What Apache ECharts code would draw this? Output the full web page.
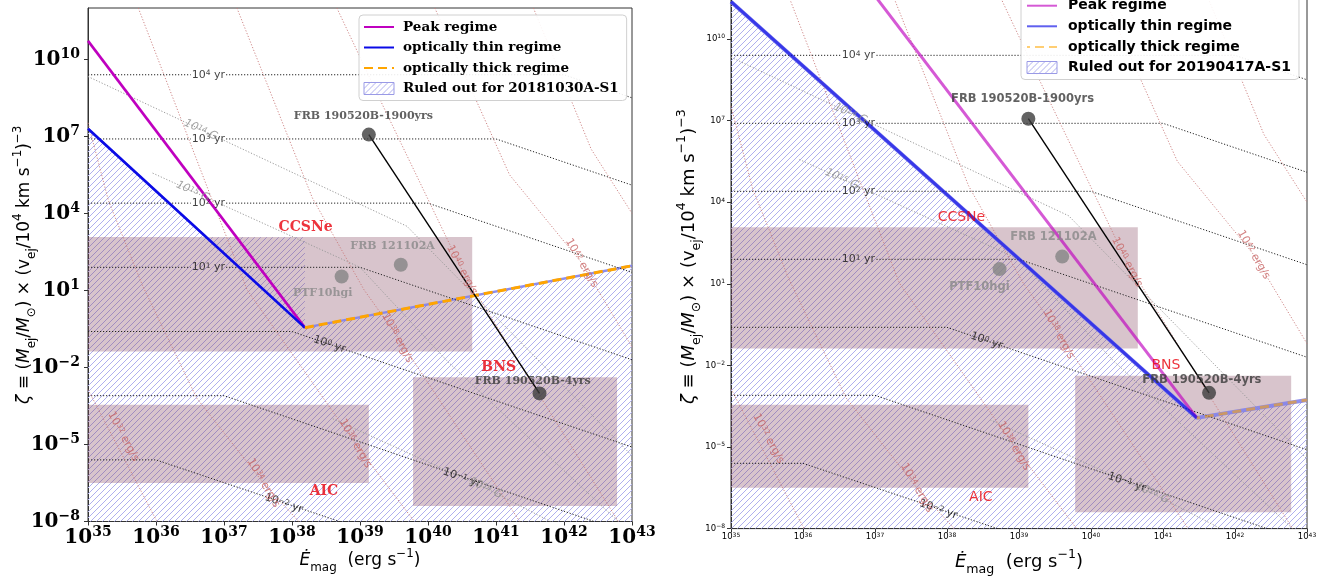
<!DOCTYPE html>
<html><head><meta charset="utf-8">
<script src="https://cdn.jsdelivr.net/npm/echarts@6/dist/echarts.min.js"></script>
<style>html,body{margin:0;padding:0;background:#fff}#c{width:1328px;height:576px}</style>
</head><body><div id="c"></div>
<script>
// ===== DATA (all values are log10: x = log10 Edot_mag [erg/s], y = log10 zeta) =====
const xTickExp = [35,36,37,38,39,40,41,42,43];
const yTickExp = [-8,-5,-2,1,4,7,10];

// left panel (20181030A-S1)
const peakLeft  = [[35,10.72],[38.19,-0.45]];
const thinLeft  = [[35,7.30],[38.19,-0.45]];
const thickLeft = [[38.19,-0.45],[43,1.96]];
const ruledLeft = [[35,7.30],[36.74,3.07],[38.19,3.07],[38.19,-0.45],[43,1.96],[43,-8],[35,-8]];
// right panel (20190417A-S1)
const peakRight  = [[36.88,12],[41.47,-3.93]];
const thinRight  = [[35,11.37],[41.47,-3.93]];
const thickRight = [[41.47,-3.93],[43,-3.27]];
const ruledRight = [[35,11.37],[41.47,-3.93],[43,-3.27],[43,-8],[35,-8]];

// source-class boxes [x0,x1,y0,y1]
const boxCCSNe = [35,40.65,-1.38,3.08];
const boxAIC   = [35,39.13,-6.5,-3.45];
const boxBNS   = [39.78,42.78,-7.4,-2.38];

// FRB points
const frb190520B = [[39.13,7.07],[41.64,-3.01]];
const frbOthers  = [[39.60,2.00],[38.73,1.54]];

// age contours (black dotted)
const ageCurves = [
  [[35,9.4],[42,9.4],[43,8.5]],
  [[35,6.9],[41,6.9],[43,5.1]],
  [[35,4.4],[40,4.4],[43,1.7]],
  [[35,1.9],[39,1.9],[43,-1.7]],
  [[35,-0.6],[38,-0.6],[43,-5.1]],
  [[35,-3.1],[37,-3.1],[43,-8.5]],
  [[35,-5.6],[36,-5.6],[38.7,-8]]
];
const ageLabels = [
  {e:'4',x:36.77,y:9.4,r:0},{e:'3',x:36.77,y:6.9,r:0},{e:'2',x:36.77,y:4.4,r:0},
  {e:'1',x:36.77,y:1.9,r:0},{e:'0',x:38.55,y:-1.1,r:-19},{e:'−1',x:40.5,y:-6.3,r:-19},
  {e:'−2',x:37.88,y:-7.3,r:-19}
];
// B-field contours (grey dotted)
const bCurves = [
  [[35,9.33],[39.69,3.5],[43,-5.44]],
  [[35.95,5.57],[39.0,1.9],[40.3,-1.8],[43,-8.5]],
  [[38.6,-4.0],[40.85,-6.7],[41.8,-8]]
];
const bLabels = [{e:'14',x:36.66,y:7.25,r:-25},{e:'15',x:36.54,y:4.85,r:-25},{e:'16',x:40.85,y:-6.7,r:-25}];
// luminosity contours (red dotted)
const lumCurves = [
  [[35,-2.86],[35.99,-7.88],[36.02,-8]],
  [[35,7.53],[35.3,4.5],[35.8,1.2],[36.6,-3.2],[37.58,-6.5],[38.1,-8]],
  [[35.74,12],[36.8,4.7],[37.34,1.02],[38.93,-4.96],[39.8,-8]],
  [[37.19,12],[38.3,4.6],[39.06,1.02],[39.55,-0.8],[41.35,-8]],
  [[38.66,12],[39.3,8.4],[40.5,1.8],[41.5,-2.5],[42.8,-8]],
  [[40.1,12],[41.2,5.5],[42.26,2.07],[43,-1.2]],
  [[41.55,12],[42.4,6.5],[43,4.0]]
];
const lumLabels = [
  {e:'32',x:35.52,y:-4.69,r:-62},{e:'34',x:37.58,y:-6.5,r:-60},{e:'36',x:38.93,y:-4.96,r:-60},
  {e:'38',x:39.55,y:-0.85,r:-62},{e:'40',x:40.5,y:1.8,r:-62},{e:'42',x:42.26,y:2.07,r:-60}
];
const annotations = [
  {t:'CCSNe',x:38.2,y:3.46,k:'red'},
  {t:'FRB 121102A',x:39.48,y:2.71,k:'gray'},
  {t:'PTF10hgi',x:38.45,y:0.88,k:'gray'},
  {t:'FRB 190520B-1900yrs',x:39.05,y:7.8,k:'dark'},
  {t:'BNS',x:41.04,y:-2.0,k:'red'},
  {t:'FRB 190520B-4yrs',x:41.54,y:-2.55,k:'dark'},
  {t:'AIC',x:38.47,y:-6.84,k:'red'}
];
const legendNames = ['Peak regime','optically thin regime','optically thick regime'];
const ruledNames = ['Ruled out for 20181030A-S1','Ruled out for 20190417A-S1'];

// ===== RENDERING =====
const P = v => Math.pow(10, v);
const toXY = a => a.map(p => [P(p[0]), P(p[1])]);
const HATCH = '#afafee';
function hatchCanvas(step, color, lw){
  const c=document.createElement('canvas'); c.width=step; c.height=step;
  const g=c.getContext('2d');
  g.strokeStyle=color; g.lineWidth=lw; g.beginPath();
  g.moveTo(-1,step+1); g.lineTo(step+1,-1);
  g.moveTo(-step/2-1,step/2+1); g.lineTo(step/2+1,-step/2-1);
  g.moveTo(step/2-1,step*1.5+1); g.lineTo(step*1.5+1,step/2-1);
  g.stroke(); return c;
}
const legendPat = {image: hatchCanvas(6, HATCH, 1), repeat:'repeat'};
// hatch lines ("/") clipped to a pixel polygon
function hatchLines(pts, step){
  const cs = pts.map(p => p[0]+p[1]);
  const c0 = Math.ceil(Math.min(...cs)/step)*step, c1 = Math.max(...cs);
  const out = [];
  for (let c=c0; c<=c1; c+=step){
    const xs=[];
    for (let i=0;i<pts.length;i++){
      const a=pts[i], b=pts[(i+1)%pts.length];
      const fa=a[0]+a[1]-c, fb=b[0]+b[1]-c;
      if ((fa<0)!==(fb<0)){ const t=fa/(fa-fb); xs.push(a[0]+t*(b[0]-a[0])); }
    }
    xs.sort((u,v)=>u-v);
    for (let k=0;k+1<xs.length;k+=2)
      out.push({type:'line', shape:{x1:xs[k],y1:c-xs[k],x2:xs[k+1],y2:c-xs[k+1]},
        style:{stroke:HATCH, lineWidth:1}});
  }
  return out;
}
// split a contour around a horizontal in-line label (gap half-width in decades)
function splitAtLabel(curve, lab, half){
  if (!lab || lab.r !== 0) return [curve];
  return [[curve[0],[lab.x-half,curve[0][1]]], [[lab.x+half,curve[0][1]]].concat(curve.slice(1))];
}

const chart = echarts.init(document.getElementById('c'));
const styles = [
  {serif:true, font:'DejaVu Serif', grid:{left:88,right:696,top:8,bottom:54.5},
   tick:{b:20,s:14,bold:'bold'}, xm:4, ym:8, lineA:1, dash:1, sfx:'', title:17, xGap:26, yGap:50, legFont:13.5,
   annRed:14, annGray:11, gap:0.26},
  {serif:false, font:'DejaVu Sans', grid:{left:731,right:21,top:-15.4,bottom:47.4},
   tick:{b:8.5,s:6,bold:'normal'}, xm:3.5, ym:6, lineA:0.65, dash:0.55, sfx:' ', title:18, xGap:20, yGap:28, legFont:14,
   annRed:14, annGray:11.5, gap:0.25}
];
const grids=[], xAxes=[], yAxes=[], series=[], legends=[];
const sup = e => String(e).replace('-', '−');
const INVIS = {color:'rgba(0,0,0,0)'};

styles.forEach((st, pi) => {
  grids.push(Object.assign({show:true, borderColor:'#333', borderWidth:1, backgroundColor:'transparent',
    containLabel:false, outerBoundsMode:'none'}, st.grid));
  const tickRich = {
    b:{fontFamily:st.font,fontSize:st.tick.b,fontWeight:st.tick.bold,color:'#000',lineHeight:st.tick.b*1.2},
    s:{fontFamily:st.font,fontSize:st.tick.s,fontWeight:st.tick.bold,color:'#000',verticalAlign:'top'}
  };
  const fmt = v => '{b|10}{s|' + sup(Math.round(Math.log10(v))) + '}';
  const T = st.title;
  const titleRich = {
    n:{fontFamily:'DejaVu Sans',fontSize:T,color:'#000',lineHeight:T*1.55},
    i:{fontFamily:'DejaVu Sans',fontSize:T,fontStyle:'italic',color:'#000',lineHeight:T*1.55},
    sub:{fontFamily:'DejaVu Sans',fontSize:T*0.7,color:'#000',verticalAlign:'bottom'},
    sup:{fontFamily:'DejaVu Sans',fontSize:T*0.7,color:'#000',verticalAlign:'top'}
  };
  xAxes.push({type:'log', gridIndex:pi, min:1e35, max:1e43, logBase:10,
    axisLine:{show:true,lineStyle:{color:'#333'}}, splitLine:{show:false},
    axisTick:{show:true, customValues:xTickExp.map(P), length:4, lineStyle:{color:'#333'}},
    axisLabel:{customValues:xTickExp.map(P), formatter:fmt, rich:tickRich, margin:st.xm},
    name:'{i|Ė}{sub|mag}{n|  (erg s}{sup|−1}{n|)}', nameLocation:'middle', nameGap:st.xGap, nameMoveOverlap:false,
    nameTextStyle:{rich:titleRich}});
  yAxes.push({type:'log', gridIndex:pi, min:1e-8, max:1e12, logBase:10,
    axisLine:{show:true,lineStyle:{color:'#333'}}, splitLine:{show:false},
    axisTick:{show:true, customValues:yTickExp.map(P), length:4, lineStyle:{color:'#333'}},
    axisLabel:{customValues:yTickExp.map(P), formatter:fmt, rich:tickRich, margin:st.ym},
    name:'{i|ζ}{n| ≡ (}{i|M}{sub|ej}{n|/}{i|M}{sub|⊙}{n|) × (v}{sub|ej}{n|/10}{sup|4}{n| km s}{sup|−1}{n|)}{sup|−3}',
    nameLocation:'middle', nameRotate:90, nameGap:st.yGap, nameMoveOverlap:false, nameTextStyle:{rich:titleRich}});

  const ax = {xAxisIndex:pi, yAxisIndex:pi};
  const sfx = st.sfx;
  // ruled out hatch
  const ruled = pi ? ruledRight : ruledLeft;
  series.push(Object.assign({type:'custom', name:ruledNames[pi], z:1, silent:true,
    itemStyle:{color:legendPat},
    data:[[0]],
    renderItem:(params, api) => ({type:'group',
      children: hatchLines(ruled.map(p=>api.coord([P(p[0]),P(p[1])])), 6)})
  }, ax));
  // boxes (translucent, over the hatch)
  const boxes = [boxCCSNe, boxAIC, boxBNS];
  series.push(Object.assign({type:'custom', name:'boxes'+pi, z:2, silent:true,
    data:boxes.map((b,i)=>[i]),
    renderItem:(params, api) => {
      const b=boxes[params.dataIndex];
      const p0=api.coord([P(b[0]),P(b[3])]), p1=api.coord([P(b[1]),P(b[2])]);
      return {type:'rect', shape:{x:p0[0],y:p0[1],width:p1[0]-p0[0],height:p1[1]-p0[1]},
        style:{fill:'rgba(135,70,95,0.32)'}};
    }}, ax));
  // ruled-out boundary
  series.push(Object.assign({type:'line', z:3, silent:true, symbol:'none',
    data:toXY(pi ? thinRight.concat(thickRight.slice(1)) : thinLeft.concat(thickLeft.slice(1))),
    lineStyle:{color:'rgba(130,130,235,0.9)', width:pi?4:2.4}}, ax));
  // contours
  const dot = [1.2,1.8];
  ageCurves.forEach((c,i) => splitAtLabel(c, ageLabels[i], st.gap).forEach(seg =>
    series.push(Object.assign({type:'line', z:3, silent:true, symbol:'none', data:toXY(seg),
      lineStyle:{color:'#222',width:1,type:dot}}, ax))));
  bCurves.forEach(c => series.push(Object.assign({type:'line', z:3, silent:true, symbol:'none', data:toXY(c),
    lineStyle:{color:'#9a9a9a',width:1,type:dot}}, ax)));
  lumCurves.forEach(c => series.push(Object.assign({type:'line', z:3, silent:true, symbol:'none', data:toXY(c),
    lineStyle:{color:'#c97a7a',width:0.9,type:dot}}, ax)));
  // regime lines
  const A = st.lineA;
  series.push(Object.assign({type:'line', name:legendNames[0]+sfx, z:4, symbol:'none', silent:true,
    data:toXY(pi?peakRight:peakLeft), lineStyle:{color:`rgba(191,0,191,${A})`, width:pi?3:2.6}}, ax));
  series.push(Object.assign({type:'line', name:legendNames[1]+sfx, z:4, symbol:'none', silent:true,
    data:toXY(pi?thinRight:thinLeft), lineStyle:{color:`rgba(10,10,230,${A})`, width:pi?3:2.6}}, ax));
  series.push(Object.assign({type:'line', name:legendNames[2]+sfx, z:4, symbol:'none', silent:true,
    data:toXY(pi?thickRight:thickLeft), lineStyle:{color:`rgba(255,165,0,${st.dash})`, width:3, type:[9,5], dashOffset:pi?-8:0}}, ax));
  // FRB 190520B link + points
  series.push(Object.assign({type:'line', z:4, symbol:'none', silent:true, data:toXY(frb190520B),
    lineStyle:{color:'#000', width:1.4}}, ax));
  series.push(Object.assign({type:'scatter', z:5, silent:true, symbolSize:14, data:toXY(frb190520B),
    itemStyle:{color:'#3c3c3c'}}, ax));
  series.push(Object.assign({type:'scatter', z:5, silent:true, symbolSize:14, data:toXY(frbOthers),
    itemStyle:{color:'#858585'}}, ax));
  // annotations
  const annColors = {red:'#e8000b', gray:'#888', dark:'#3a3a3a'};
  series.push(Object.assign({type:'scatter', z:6, silent:true, symbolSize:1, itemStyle:INVIS,
    data: annotations.map(a => ({value:[P(a.x),P(a.y)], label:{show:true, position:'inside', formatter:a.t,
      color:annColors[a.k], fontFamily:st.font,
      fontWeight: (a.k==='red' && !st.serif) ? 'normal' : 'bold',
      fontSize: a.k==='red' ? st.annRed : st.annGray}}))}, ax));
  // contour labels
  const lab = (arr, tmpl, color, italic) => arr.map(a => ({value:[P(a.x),P(a.y)], label:{show:true, position:'inside',
      rotate:a.r, formatter: tmpl.replace('E', sup(a.e)), color:color,
      rich:{n:{fontFamily:'DejaVu Sans',fontSize:11,color:color,fontStyle:italic?'italic':'normal'},
            s:{fontFamily:'DejaVu Sans',fontSize:7.5,color:color,verticalAlign:'top',fontStyle:italic?'italic':'normal'}}}}));
  series.push(Object.assign({type:'scatter', z:6, silent:true, symbolSize:1, itemStyle:INVIS,
    data: lab(ageLabels,'{n|10}{s|E}{n| yr}','#111',false)
      .concat(lab(bLabels,'{n|10}{s|E}{n| G}','#8c8c8c',true))
      .concat(lab(lumLabels,'{n|10}{s|E}{n| erg/s}','#c86464',false))}, ax));

  legends.push({orient:'vertical', left: pi?1021:359, top: pi?-6.3:15, itemWidth:30, itemHeight:12, itemGap:pi?6.6:6.5,
    padding: pi?[5,8,5,5]:[5,8,5,4], backgroundColor:'rgba(255,255,255,0.9)', borderColor:'#d0d0d0', borderWidth:1, borderRadius:4,
    selectedMode:false, formatter: n => n.trim(),
    textStyle:{fontFamily:st.font, fontWeight:'bold', fontSize:st.legFont, color:'#000', lineHeight:12, padding:[0,0,0,pi?6:4]},
    data: legendNames.map(n => ({name:n+sfx, itemStyle:{opacity:0}}))
      .concat([{name:ruledNames[pi], icon:'rect', itemStyle:{color:legendPat, borderColor:'#9a9ae6', borderWidth:1}}])});
});

chart.setOption({animation:false, backgroundColor:'#fff', grid:grids, xAxis:xAxes, yAxis:yAxes, legend:legends, series:series});
</script></body></html>
